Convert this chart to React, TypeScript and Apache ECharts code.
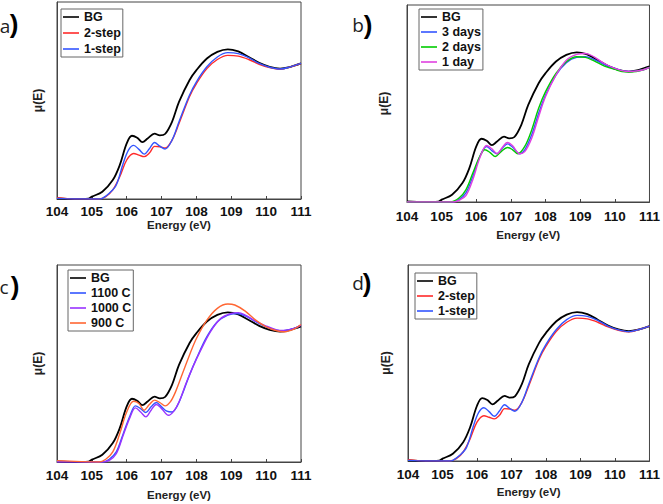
import React, { useEffect, useRef } from "react";
import * as echarts from "echarts";

type P = [number, number][];

const xTicks = [104, 105, 106, 107, 108, 109, 110, 111];

// shared reference curve (BG)
const bg: P = [
  [104, 0.3], [104.5, 0], [104.9, 0.2], [105.0, 1.2], [105.3, 3.7], [105.6, 9.6], [105.8, 17.2],
  [106.0, 28.2], [106.15, 32.1], [106.3, 31.1], [106.45, 28.9], [106.6, 30.7], [106.8, 33.2],
  [106.95, 32.3], [107.1, 33.0], [107.3, 39.2], [107.5, 49.3], [107.8, 60.3], [108.0, 65.4],
  [108.3, 71.3], [108.6, 74.7], [108.9, 76.0], [109.2, 74.9], [109.5, 72.1], [109.8, 69.1],
  [110.1, 67.1], [110.4, 66.2], [110.7, 67.1], [111.0, 68.8],
];

// panel a / d
const twoStep: P = [
  [104, 0.7], [104.5, 0], [105.2, 0], [105.4, 1.2], [105.6, 4.6], [105.8, 11.3], [106.0, 19.8],
  [106.2, 23.1], [106.35, 22.3], [106.5, 21.5], [106.65, 23.3], [106.8, 26.7], [106.95, 26.5],
  [107.1, 25.9], [107.3, 29.9], [107.5, 38.3], [107.8, 51.9], [108.0, 58.6], [108.3, 66.2],
  [108.6, 70.8], [108.9, 72.9], [109.2, 72.5], [109.5, 70.8], [109.8, 68.4], [110.1, 66.7],
  [110.4, 65.9], [110.7, 67.1], [111.0, 68.8],
];
const oneStep: P = [
  [104, 0.3], [104.5, 0], [105.2, 0], [105.3, 0.3], [105.5, 2.9], [105.7, 7.1], [105.9, 18.1],
  [106.05, 24.8], [106.2, 27.2], [106.35, 25.2], [106.5, 22.8], [106.65, 25.5], [106.8, 28.7],
  [106.95, 26.8], [107.1, 25.4], [107.3, 29.9], [107.5, 39.2], [107.8, 52.7], [108.0, 59.5],
  [108.3, 67.1], [108.6, 72.1], [108.9, 74.3], [109.2, 73.8], [109.5, 71.8], [109.8, 68.8],
  [110.1, 66.9], [110.4, 66.0], [110.7, 67.1], [111.0, 68.8],
];

// panel b
const days3: P = [
  [104, 0], [105.3, 0], [105.5, 1.2], [105.7, 4.6], [105.9, 13], [106.1, 23], [106.3, 28.2],
  [106.45, 26.1], [106.6, 24.5], [106.75, 27.3], [106.9, 29.5], [107.05, 27.8], [107.25, 24.5],
  [107.4, 26.5], [107.6, 34.1], [107.8, 45], [108.0, 54.3], [108.3, 64.4], [108.6, 70.7],
  [108.9, 73.4], [109.15, 73.7], [109.4, 72.3], [109.7, 69.8], [110.0, 67.8], [110.3, 66.4],
  [110.5, 66.3], [110.8, 67], [111, 68.3],
];
const days2: P = [
  [104, 0], [105.25, 0], [105.5, 2], [105.7, 6.2], [105.9, 14.7], [106.1, 23.1], [106.25, 26.5],
  [106.4, 25.1], [106.55, 23.1], [106.7, 25.3], [106.9, 27.7], [107.05, 26.5], [107.2, 24.5],
  [107.4, 28.2], [107.6, 36.6], [107.8, 47.6], [108.0, 56], [108.3, 65.3], [108.6, 71.2],
  [108.9, 73.7], [109.15, 73.4], [109.4, 71.6], [109.7, 69], [110.0, 67.3], [110.3, 66.1],
  [110.5, 66.1], [110.8, 67], [111, 68.3],
];
const day1: P = [
  [104, 0], [105.35, 0], [105.5, 0.8], [105.7, 3.2], [105.9, 11.3], [106.1, 22.3], [106.3, 28.7],
  [106.45, 27], [106.6, 24.5], [106.75, 27.7], [106.9, 30.2], [107.05, 28.5], [107.25, 24.5],
  [107.4, 25.6], [107.6, 32.4], [107.8, 43.3], [108.0, 53.5], [108.3, 64.4], [108.6, 72],
  [108.9, 74.9], [109.15, 75.4], [109.4, 73.7], [109.7, 70.3], [110.0, 67.8], [110.3, 66.4],
  [110.5, 66.3], [110.8, 67], [111, 68.3],
];

// panel c
const c1100: P = [
  [104, 0.3], [105.3, 0], [105.5, 1.4], [105.7, 5.1], [105.9, 14.4], [106.1, 23.7], [106.25, 28.5],
  [106.4, 27.1], [106.55, 25.1], [106.7, 28], [106.85, 30.2], [107.0, 28], [107.15, 25.8],
  [107.3, 25.4], [107.45, 28.5], [107.6, 34.7], [107.8, 44.1], [108.0, 52.5], [108.3, 63.6],
  [108.6, 71.2], [108.9, 74.6], [109.15, 75.4], [109.4, 74.2], [109.7, 71.2], [110.0, 68.6],
  [110.3, 66.9], [110.5, 66.6], [110.8, 67.8], [111, 69.5],
];
const c1000: P = [
  [104, 0], [105.3, 0], [105.5, 0.8], [105.7, 4.2], [105.9, 13.6], [106.1, 22.9], [106.25, 27.5],
  [106.4, 25.4], [106.55, 22.9], [106.7, 26.3], [106.85, 29.2], [107.0, 27.1], [107.2, 23.7],
  [107.35, 25.8], [107.5, 30.5], [107.7, 39.8], [107.9, 48.3], [108.1, 55.9], [108.4, 66.1],
  [108.7, 72.9], [109.0, 75.4], [109.2, 75.8], [109.4, 74.6], [109.7, 71.5], [110.0, 69],
  [110.3, 67.1], [110.5, 66.8], [110.8, 67.8], [111, 69.5],
];
const c900: P = [
  [104, 0.7], [105.2, 0], [105.4, 1.4], [105.6, 5.1], [105.8, 14.4], [106.0, 25.4], [106.2, 30.8],
  [106.35, 29.7], [106.5, 26.3], [106.65, 29.2], [106.8, 31.4], [106.95, 30.2], [107.1, 28.5],
  [107.25, 30.5], [107.4, 35.6], [107.6, 44.9], [107.8, 54.2], [108.0, 62.7], [108.3, 72],
  [108.6, 78], [108.9, 80.2], [109.1, 79.7], [109.4, 76.6], [109.7, 72], [110.0, 68.6],
  [110.3, 66.6], [110.5, 66.1], [110.8, 67.5], [111, 69.8],
];

const FONT = "Liberation Sans";

const grids = [
  { left: 57, top: 2, width: 244, height: 197 },
  { left: 407, top: 5, width: 243, height: 197 },
  { left: 57, top: 265, width: 244, height: 197 },
  { left: 408, top: 265, width: 245, height: 196 },
];
const labelMargins = [5, 7, 6, 6];
const nameGaps = [20, 27, 27, 25];
const yNameGaps = [13, 17, 13, 16];

type S = { name: string; data: P; color: string; w: number };
const panels: S[][] = [
  [
    { name: "BG", data: bg, color: "#000000", w: 1.8 },
    { name: "2-step", data: twoStep, color: "#ff2a2a", w: 1.4 },
    { name: "1-step", data: oneStep, color: "#3355ff", w: 1.4 },
  ],
  [
    { name: "BG", data: bg, color: "#000000", w: 1.8 },
    { name: "3 days", data: days3, color: "#3355ff", w: 1.4 },
    { name: "2 days", data: days2, color: "#00cc00", w: 1.4 },
    { name: "1 day", data: day1, color: "#e040e0", w: 1.4 },
  ],
  [
    { name: "BG", data: bg, color: "#000000", w: 1.8 },
    { name: "1100 C", data: c1100, color: "#3355ff", w: 1.4 },
    { name: "1000 C", data: c1000, color: "#9933ff", w: 1.4 },
    { name: "900 C", data: c900, color: "#ff6633", w: 1.4 },
  ],
  [
    { name: "BG", data: bg, color: "#000000", w: 1.8 },
    { name: "2-step", data: twoStep, color: "#ff2a2a", w: 1.4 },
    { name: "1-step", data: oneStep, color: "#3355ff", w: 1.4 },
  ],
];

const legendPos = [
  { left: 61, top: 9 },
  { left: 419, top: 9 },
  { left: 68, top: 270 },
  { left: 415, top: 273 },
];
const legendGaps = [2, 1, 1, 1];

const panelLabels = [
  { l: "a", lx: 5, ly: 26, px: 14, py: 24 },
  { l: "b", lx: 358, ly: 25, px: 368, py: 25 },
  { l: "c", lx: 4, ly: 287, px: 15, py: 286 },
  { l: "d", lx: 358, ly: 283, px: 367, py: 283 },
];

export default function App() {
  const ref = useRef<HTMLDivElement>(null);
  useEffect(() => {
    if (!ref.current) return;
    const chart = echarts.init(ref.current, null, { renderer: "svg" });
    const series: any[] = [];
    panels.forEach((ps, i) => {
      ps.forEach((s) => {
        series.push({
          type: "line",
          name: s.name,
          xAxisIndex: i,
          yAxisIndex: i,
          data: s.data,
          smooth: 0.35,
          symbol: "none",
          lineStyle: { color: s.color, width: s.w },
          itemStyle: { color: s.color },
        });
      });
    });
    chart.setOption({
      animation: false,
      backgroundColor: "#ffffff",
      grid: grids.map((g) => ({ ...g, show: true, borderColor: "#444", borderWidth: 1, containLabel: false })),
      xAxis: grids.map((_, i) => ({
        type: "value",
        gridIndex: i,
        min: 104,
        max: 111,
        interval: 1,
        name: "Energy (eV)",
        nameLocation: "middle",
        nameGap: nameGaps[i],
        nameTextStyle: { fontFamily: FONT, fontWeight: "bold", fontSize: 11.5, color: "#222", verticalAlign: "top" },
        axisLine: { show: true, lineStyle: { color: "#444", width: 1 } },
        axisTick: { show: true, inside: true, length: 3, lineStyle: { color: "#444" } },
        splitLine: { show: false },
        axisLabel: {
          fontFamily: FONT,
          fontWeight: "bold",
          fontSize: 13.5,
          color: "#111",
          margin: labelMargins[i],
          formatter: (v: number) => (xTicks.includes(v) ? String(v) : ""),
        },
      })),
      yAxis: grids.map((_, i) => ({
        type: "value",
        gridIndex: i,
        min: 0,
        max: 100,
        name: "μ(E)",
        nameLocation: "middle",
        nameGap: yNameGaps[i],
        nameTextStyle: { fontFamily: FONT, fontWeight: "bold", fontSize: 12, color: "#222" },
        axisLine: { show: true, lineStyle: { color: "#444", width: 1 } },
        axisTick: { show: false },
        axisLabel: { show: false },
        splitLine: { show: false },
      })),
      legend: panels.map((ps, i) => ({
        ...legendPos[i],
        orient: "vertical",
        data: ps.map((s) => s.name),
        selectedMode: false,
        icon: "rect",
        borderColor: "#666",
        borderWidth: 1,
        padding: [1, 2, 1, 2],
        itemWidth: 16,
        itemHeight: 1.6,
        itemGap: legendGaps[i],
        textStyle: { fontFamily: FONT, fontWeight: "bold", fontSize: 12.5, lineHeight: 14, color: "#111" },
      })),
      graphic: panelLabels.flatMap((p) => [
        {
          type: "text",
          x: p.lx,
          y: p.ly,
          style: {
            text: p.l,
            fontFamily: "Open Sans",
            fontSize: 19,
            fill: "#222",
            textAlign: "center",
            textVerticalAlign: "middle",
          },
        },
        {
          type: "text",
          x: p.px,
          y: p.py,
          style: {
            text: ")",
            fontFamily: FONT,
            fontWeight: "bold",
            fontSize: 26,
            fill: "#000",
            textAlign: "center",
            textVerticalAlign: "middle",
          },
        },
      ]),
      series,
    });
    return () => chart.dispose();
  }, []);
  return (
    <div
      ref={ref}
      style={{ position: "fixed", left: 0, top: 0, width: 663, height: 504, background: "#fff" }}
    />
  );
}
